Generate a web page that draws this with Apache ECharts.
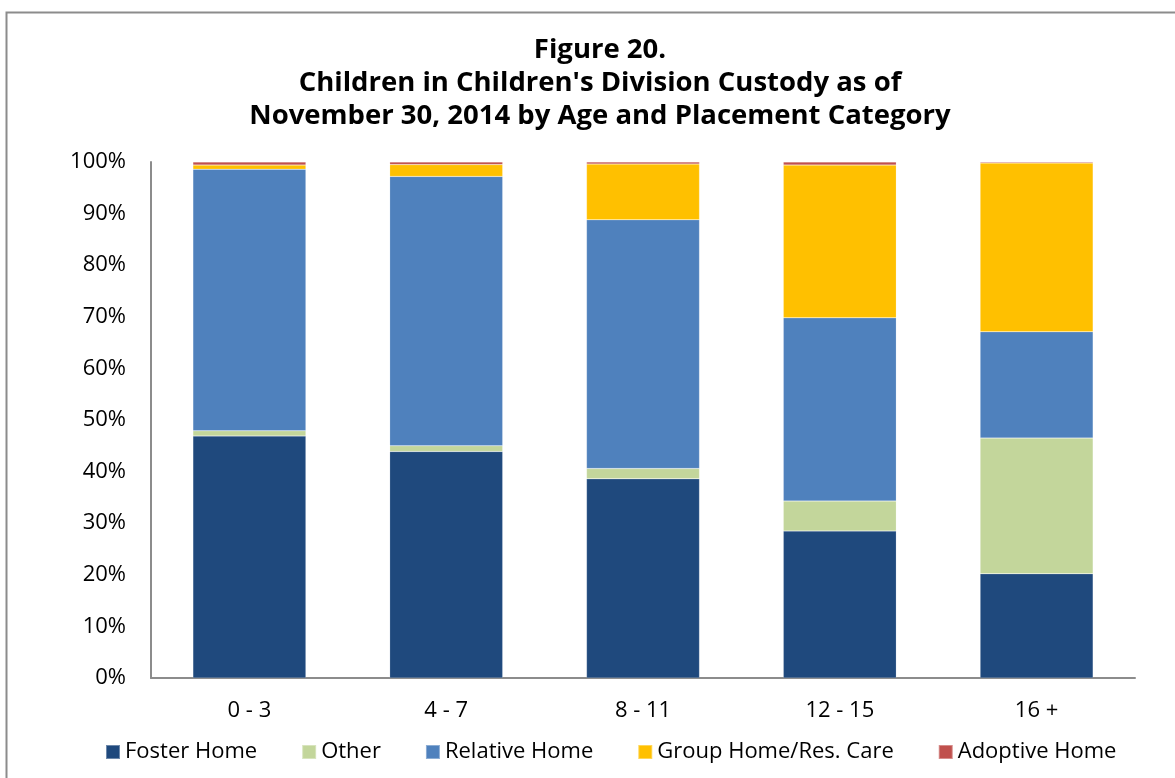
<!DOCTYPE html>
<html>
<head>
<meta charset="utf-8">
<script src="https://cdn.jsdelivr.net/npm/echarts@6/dist/echarts.min.js"></script>
<style>
html,body{margin:0;padding:0;background:#fff;}
#chart{width:1175px;height:778px;}
</style>
</head>
<body>
<div id="chart"></div>
<script>
const categories = ['0 - 3', '4 - 7', '8 - 11', '12 - 15', '16 +'];
const fosterHome = [46.9, 43.9, 38.6, 28.5, 20.2];
const other = [1.0, 1.1, 2.0, 5.8, 26.3];
const relativeHome = [50.7, 52.2, 48.2, 35.5, 20.6];
const groupHome = [0.8, 2.3, 10.8, 29.6, 32.7];
const adoptiveHome = [0.6, 0.5, 0.4, 0.6, 0.2];
const yTicks = [0, 10, 20, 30, 40, 50, 60, 70, 80, 90, 100];

const FONT = 'Open Sans';
const chart = echarts.init(document.getElementById('chart'), null, {renderer: 'canvas'});

function bar(name, data, color) {
  return {
    name: name, type: 'bar', stack: 'total', data: data,
    barWidth: 113,
    itemStyle: {color: color, borderColor: 'rgba(255,255,255,0.35)', borderWidth: 0.5},
    emphasis: {disabled: true}
  };
}

chart.setOption({
  animation: false,
  graphic: [{
    type: 'rect', left: 4, top: 10,
    shape: {width: 1180, height: 780},
    style: {fill: 'none', stroke: '#8c8c8c', lineWidth: 2}
  }],
  title: {
    text: "Figure 20.\nChildren in Children's Division Custody as of\nNovember 30, 2014 by Age and Placement Category",
    left: 595, top: 29, textAlign: 'center',
    textStyle: {fontFamily: FONT, fontWeight: 'bold', fontSize: 27.5, lineHeight: 33, color: '#000'}
  },
  legend: {
    bottom: 10, left: 100,
    itemWidth: 14, itemHeight: 14, itemGap: 44,
    icon: 'rect',
    textStyle: {fontFamily: FONT, fontSize: 22, color: '#000'},
    data: ['Foster Home', 'Other', 'Relative Home', 'Group Home/Res. Care', 'Adoptive Home']
  },
  grid: {left: 151, right: 40, top: 162, bottom: 100, containLabel: false},
  xAxis: {
    type: 'category', data: categories,
    axisLine: {lineStyle: {color: '#8c8c8c', width: 2}},
    axisTick: {show: false},
    axisLabel: {fontFamily: FONT, fontSize: 22, color: '#000', margin: 22}
  },
  yAxis: {
    type: 'value', min: 0, max: 100, interval: 10,
    axisLine: {show: true, lineStyle: {color: '#8c8c8c', width: 2}},
    axisTick: {show: false},
    splitLine: {show: false},
    axisLabel: {fontFamily: FONT, fontSize: 22, color: '#000', margin: 25,
      formatter: function (v) { return yTicks.indexOf(v) >= 0 ? v + '%' : ''; }}
  },
  series: [
    bar('Foster Home', fosterHome, '#1f497d'),
    bar('Other', other, '#c3d69b'),
    bar('Relative Home', relativeHome, '#4f81bd'),
    bar('Group Home/Res. Care', groupHome, '#ffc000'),
    bar('Adoptive Home', adoptiveHome, '#c0504d')
  ]
});
</script>
</body>
</html>
